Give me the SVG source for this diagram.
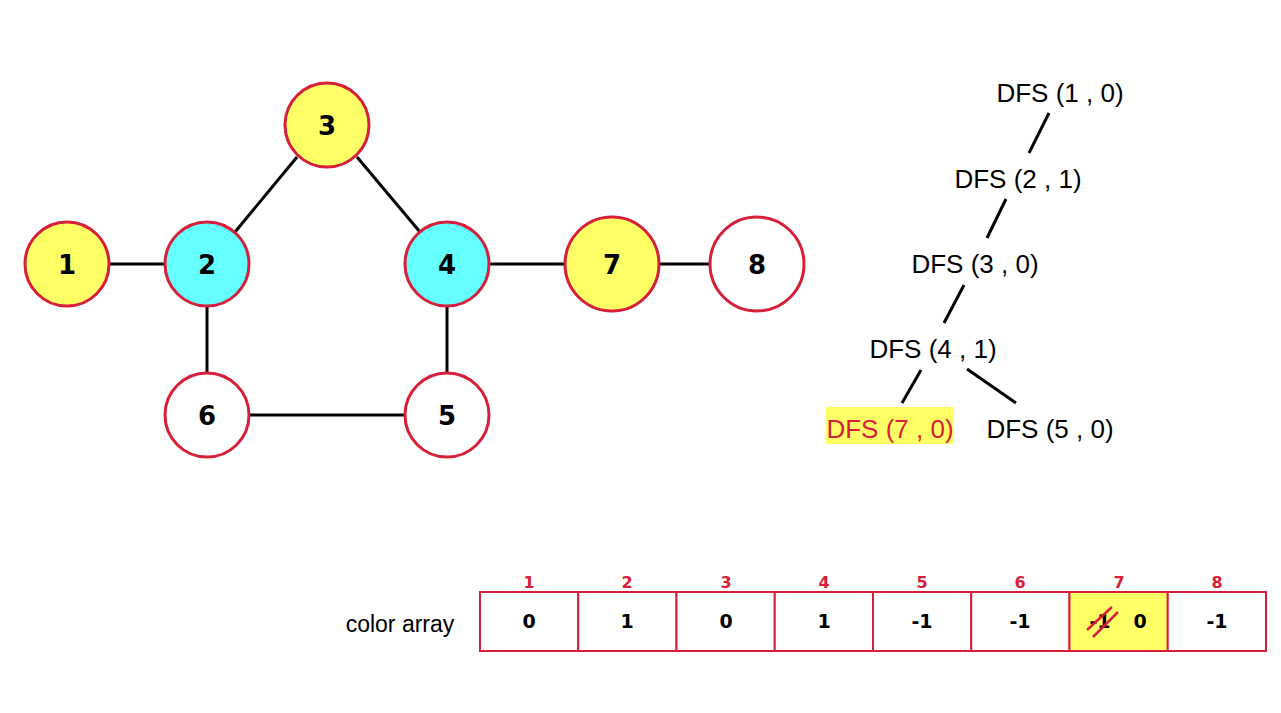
<svg xmlns="http://www.w3.org/2000/svg" width="1281" height="713" viewBox="0 0 1281 713">
<style>
.n{stroke:#d6203a;stroke-width:3}
.w{fill:#ffffff}.y{fill:#ffff66}.c{fill:#66ffff}
.nl{font-family:"DejaVu Sans",sans-serif;font-weight:bold;font-size:26px;fill:#000;text-anchor:middle}
.e{stroke:#000;stroke-width:3;fill:none}
.t{font-family:"Liberation Sans",Arial,sans-serif;font-size:26px;fill:#000;text-anchor:middle}
.cell{fill:#fff;stroke:#d6203a;stroke-width:2}
.idx{font-family:"DejaVu Sans",sans-serif;font-weight:bold;font-size:16px;fill:#d6203a;text-anchor:middle}
.val{font-family:"DejaVu Sans",sans-serif;font-weight:bold;font-size:19px;fill:#000;text-anchor:middle}
</style>
<rect width="1281" height="713" fill="#fff"/>
<g id="connectors">
<line class="e" x1="109" y1="264" x2="165" y2="264"/>
<line class="e" x1="235" y1="232" x2="297" y2="157"/>
<line class="e" x1="357" y1="157" x2="420" y2="232"/>
<line class="e" x1="489" y1="264" x2="565" y2="264"/>
<line class="e" x1="660" y1="264" x2="710" y2="264"/>
<line class="e" x1="207" y1="306" x2="207" y2="373"/>
<line class="e" x1="447" y1="306" x2="447" y2="373"/>
<line class="e" x1="249" y1="415" x2="405" y2="415"/>
<line class="e" x1="1049" y1="113" x2="1029" y2="153"/>
<line class="e" x1="1006" y1="199" x2="987" y2="238"/>
<line class="e" x1="964" y1="285" x2="944" y2="323"/>
<line class="e" x1="921" y1="370" x2="902" y2="403"/>
<line class="e" x1="967" y1="369" x2="1016" y2="403"/>
</g>
<g id="node1"><circle class="n y" cx="67" cy="264" r="42"/><text class="nl" x="67" y="274">1</text></g>
<g id="node2"><circle class="n c" cx="207" cy="264" r="42"/><text class="nl" x="207" y="274">2</text></g>
<g id="node3"><circle class="n y" cx="327" cy="125" r="42"/><text class="nl" x="327" y="135">3</text></g>
<g id="node4"><circle class="n c" cx="447" cy="264" r="42"/><text class="nl" x="447" y="274">4</text></g>
<g id="node7"><circle class="n y" cx="612" cy="264" r="47"/><text class="nl" x="612" y="274">7</text></g>
<g id="node8"><circle class="n w" cx="757" cy="264" r="47"/><text class="nl" x="757" y="274">8</text></g>
<g id="node6"><circle class="n w" cx="207" cy="415" r="42"/><text class="nl" x="207" y="425">6</text></g>
<g id="node5"><circle class="n w" cx="447" cy="415" r="42"/><text class="nl" x="447" y="425">5</text></g>
<g id="tree">
<text class="t" x="1060" y="102">DFS (1 , 0)</text>
<text class="t" x="1018" y="188">DFS (2 , 1)</text>
<text class="t" x="975" y="273">DFS (3 , 0)</text>
<text class="t" x="933" y="358">DFS (4 , 1)</text>
<rect x="826" y="407" width="128" height="37" fill="#ffff66"/>
<text class="t" x="890" y="438" style="fill:#d6203a">DFS (7 , 0)</text>
<text class="t" x="1050" y="438">DFS (5 , 0)</text>
</g>
<g id="array">
<text x="400" y="632" font-family="Liberation Sans, Arial, sans-serif" font-size="23" fill="#000" text-anchor="middle">color array</text>
<rect class="cell" x="480" y="592" width="98.25" height="59"/>
<rect class="cell" x="578.25" y="592" width="98.25" height="59"/>
<rect class="cell" x="676.5" y="592" width="98.25" height="59"/>
<rect class="cell" x="774.75" y="592" width="98.25" height="59"/>
<rect class="cell" x="873" y="592" width="98.25" height="59"/>
<rect class="cell" x="971.25" y="592" width="98.25" height="59"/>
<rect class="cell" x="1069.5" y="592" width="98.25" height="59" style="fill:#ffff66"/>
<rect class="cell" x="1167.75" y="592" width="98.25" height="59"/>
<text class="idx" x="529" y="588">1</text>
<text class="idx" x="627" y="588">2</text>
<text class="idx" x="726" y="588">3</text>
<text class="idx" x="824" y="588">4</text>
<text class="idx" x="922" y="588">5</text>
<text class="idx" x="1020" y="588">6</text>
<text class="idx" x="1119" y="588">7</text>
<text class="idx" x="1217" y="588">8</text>
<text class="val" x="529" y="628">0</text>
<text class="val" x="627" y="628">1</text>
<text class="val" x="726" y="628">0</text>
<text class="val" x="824" y="628">1</text>
<text class="val" x="922" y="628">-1</text>
<text class="val" x="1020" y="628">-1</text>
<text class="val" x="1100" y="628">-1</text>
<text class="val" x="1140" y="628">0</text>
<text class="val" x="1217" y="628">-1</text>
<line x1="1087" y1="630" x2="1112" y2="607" stroke="#d6203a" stroke-width="2.5"/>
<line x1="1093" y1="637" x2="1118" y2="612" stroke="#d6203a" stroke-width="2.5"/>
</g>
</svg>
